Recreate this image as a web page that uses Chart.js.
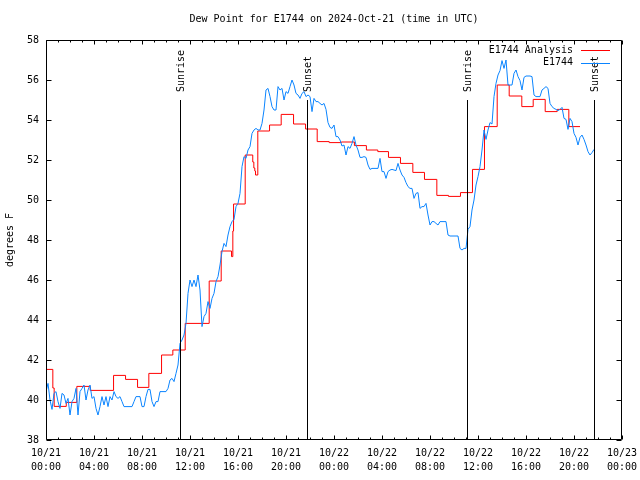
<!DOCTYPE html>
<html>
<head>
<meta charset="utf-8">
<script src="https://cdn.jsdelivr.net/npm/chart.js@4/dist/chart.umd.min.js"></script>
<style>
html,body{margin:0;padding:0;background:#fff;}
#wrap{width:640px;height:480px;}
</style>
</head>
<body>
<div id="wrap"><canvas id="c" width="640" height="480"></canvas></div>
<script>
// ---- data (hours since 10/21 00:00 UTC) ----
const chartTitle = 'Dew Point for E1744 on 2024-Oct-21 (time in UTC)';
const yTitle = 'degrees F';
const xTickDates = ['10/21','10/21','10/21','10/21','10/21','10/21','10/22','10/22','10/22','10/22','10/22','10/22','10/23'];
const xTickTimes = ['00:00','04:00','08:00','12:00','16:00','20:00','00:00','04:00','08:00','12:00','16:00','20:00','00:00'];

const sunTimes = [11.13, 21.72, 35.06, 45.64];
const sunLabels = ['Sunrise','Sunset','Sunrise','Sunset'];
const sunLineTop = 55;

const anaLabel = 'E1744 Analysis';
const anaTimes = [0, 0.57, 0.68, 1.69, 2.57, 3.68, 5.63, 6.63, 7.63, 8.57, 9.63, 10.57, 11.6, 13.6, 14.6, 15.46, 15.57, 15.63, 16.6, 17.23, 17.32, 17.4, 17.46, 17.65, 18.63, 19.6, 20.63, 21.63, 22.6, 23.6, 24.6, 25.7, 26.7, 27.65, 28.54, 29.54, 30.57, 31.54, 32.57, 33.54, 34.54, 35.54, 36.54, 37.6, 38.6, 39.65, 40.6, 41.6, 42.6, 43.57, 44.5];
const anaValues = [41.53, 40.6, 39.68, 39.88, 40.68, 40.48, 41.23, 41.03, 40.63, 41.33, 42.25, 42.5, 43.83, 45.95, 47.45, 47.17, 48.45, 49.8, 52.25, 51.9, 51.6, 51.45, 51.25, 53.45, 53.75, 54.28, 53.8, 53.55, 52.92, 52.87, 52.9, 52.72, 52.5, 52.42, 52.13, 51.83, 51.38, 51.03, 50.23, 50.18, 50.37, 51.53, 53.67, 55.75, 55.2, 54.67, 55.03, 54.42, 54.53, 53.67, 53.67];

const obsLabel = 'E1744';
const obsStepMinutes = 10; // observations every 10 minutes from 10/21 00:00
const obsValues = [
 40.42,40.83,40.0,39.53,40.33,40.42,39.92,39.58,40.33,40.25,
 39.83,40.08,39.25,39.92,40.08,40.58,39.25,40.42,40.58,40.75,
 40.0,40.5,40.75,40.08,40.17,39.58,39.25,39.67,40.17,39.75,
 40.17,39.67,40.17,40.0,40.42,40.17,40.08,40.17,39.92,39.67,
 39.67,39.67,39.67,39.67,39.92,40.17,40.17,40.17,39.67,39.67,
 40.17,40.53,40.53,39.92,39.67,39.92,39.92,40.42,40.42,40.42,
 40.42,40.58,41.0,41.08,40.92,41.33,41.75,42.83,43.0,43.25,
 43.83,45.33,46.0,45.67,46.0,45.67,46.25,45.5,43.67,44.17,
 44.33,44.92,44.58,45.08,45.33,45.92,46.17,46.75,47.42,47.83,
 47.67,48.25,48.67,48.92,49.03,49.67,49.83,50.33,51.67,52.17,
 52.08,52.5,52.67,53.33,53.5,53.58,53.5,53.5,53.83,54.5,
 55.5,55.58,55.17,54.67,54.5,54.5,55.67,55.5,55.58,55.0,
 55.42,55.33,55.67,56.0,55.75,55.33,55.25,55.08,55.33,55.42,
 55.17,55.25,55.17,54.42,55.08,54.92,54.92,54.83,54.75,54.83,
 54.53,53.87,53.63,53.58,53.75,53.17,53.17,53.0,52.7,52.75,
 52.25,52.67,52.58,52.83,53.17,52.75,52.5,52.13,52.13,52.17,
 52.13,51.75,51.53,51.58,51.58,51.58,51.58,52.08,51.42,51.42,
 51.08,51.42,51.5,51.53,51.5,51.47,51.83,51.5,51.25,51.13,
 50.87,50.67,50.58,50.58,50.08,50.33,50.37,49.58,49.67,49.67,
 49.83,49.25,48.75,48.92,48.92,48.83,48.75,48.92,48.92,48.92,
 48.92,48.25,48.2,48.2,48.2,48.2,48.2,47.58,47.5,47.58,
 47.58,48.53,48.67,49.5,50.0,50.75,51.17,51.67,52.5,53.5,
 53.03,53.5,53.87,53.8,55.17,55.83,56.25,56.47,56.97,56.58,
 57.0,55.75,55.75,55.75,56.33,56.5,56.17,55.97,55.5,56.13,
 56.2,56.2,56.2,56.17,55.25,55.17,55.17,55.17,55.5,55.58,
 55.67,55.58,54.83,54.67,54.58,54.53,54.47,54.53,54.63,54.08,
 54.03,53.53,54.08,53.92,53.33,53.13,52.75,53.13,53.25,53.03,
 52.75,52.42,52.25,52.37,52.53
];

const xTickStep = 4;
const yMin = 38, yMax = 58, yStep = 2;
const xMin = 0, xMax = 48;

const anaColor = '#ff0000';
const obsColor = '#0a84ff';
const FONT = '"DejaVu Sans Mono", "Liberation Mono", monospace';

// ---- build ----
const anaData = anaTimes.map((t, i) => ({x: t, y: anaValues[i]}));
const obsData = obsValues.map((v, i) => ({x: i * obsStepMinutes / 60, y: v}));

const decor = {
  id: 'decor',
  afterDatasetsDraw(chart) {
    const {ctx, chartArea: a, scales} = chart;
    const x = scales.x, y = scales.y;
    ctx.save();
    ctx.strokeStyle = '#000';
    ctx.fillStyle = '#000';
    ctx.lineWidth = 1;
    ctx.font = '10px ' + FONT;
    const L = a.left + 0.5, R = a.right - 0.5, T = a.top + 0.5, B = a.bottom - 0.5;

    // sunrise / sunset lines
    sunTimes.forEach((t, i) => {
      const px = Math.round(x.getPixelForValue(t)) + 0.5;
      const top = Math.round(y.getPixelForValue(sunLineTop));
      ctx.beginPath(); ctx.moveTo(px, top); ctx.lineTo(px, B); ctx.stroke();
      ctx.save();
      ctx.translate(px + 1, top - 8);
      ctx.rotate(-Math.PI / 2);
      ctx.textAlign = 'left';
      ctx.textBaseline = 'middle';
      ctx.fillText(sunLabels[i], 0, 0);
      ctx.restore();
    });

    // frame
    ctx.beginPath();
    ctx.rect(L, T, R - L, B - T);
    ctx.stroke();

    // x ticks (major every 4h, minor every hour), inward, bottom and top
    ctx.beginPath();
    for (let h = xMin; h <= xMax; h++) {
      const px = Math.round(x.getPixelForValue(h)) + 0.5;
      const len = (h % xTickStep === 0) ? 4 : 2;
      ctx.moveTo(px, B); ctx.lineTo(px, B - len);
      ctx.moveTo(px, T); ctx.lineTo(px, T + len);
    }
    // y ticks, inward, left and right
    for (let v = yMin; v <= yMax; v += yStep) {
      const py = Math.round(y.getPixelForValue(v)) + 0.5;
      ctx.moveTo(L, py); ctx.lineTo(L + 5, py);
      ctx.moveTo(R, py); ctx.lineTo(R - 5, py);
    }
    ctx.stroke();

    // title
    ctx.textAlign = 'center';
    ctx.textBaseline = 'middle';
    ctx.fillText(chartTitle, (a.left + a.right) / 2, 19);

    // legend (text right-aligned, sample line on the right)
    const ds = chart.data.datasets;
    const rows = [ds[0], ds[1]];
    rows.forEach((d, i) => {
      const ly = 50 + i * 12.5;
      ctx.textAlign = 'right';
      ctx.fillStyle = '#000';
      ctx.fillText(d.label, 573, ly);
      ctx.strokeStyle = d.borderColor;
      ctx.beginPath();
      const yy = Math.round(ly) + 0.5;
      ctx.moveTo(581, yy); ctx.lineTo(610, yy);
      ctx.stroke();
    });
    ctx.restore();
  }
};

Chart.defaults.color = '#000';
Chart.defaults.font.family = FONT;
Chart.defaults.font.size = 10;

new Chart(document.getElementById('c'), {
  type: 'line',
  data: {
    datasets: [
      {label: anaLabel, data: anaData, borderColor: anaColor, backgroundColor: anaColor,
       borderWidth: 1, pointRadius: 0, stepped: true, order: 2},
      {label: obsLabel, data: obsData, borderColor: obsColor, backgroundColor: obsColor,
       borderWidth: 1, pointRadius: 0, tension: 0, order: 1}
    ]
  },
  options: {
    responsive: false,
    animation: false,
    events: [],
    layout: {padding: {top: 40, right: 18, left: 0, bottom: 0}},
    plugins: {legend: {display: false}, title: {display: false}, tooltip: {enabled: false}},
    scales: {
      x: {
        type: 'linear', min: xMin, max: xMax,
        grid: {display: false, drawTicks: false, tickLength: 0}, border: {display: false},
        ticks: {
          stepSize: xTickStep, autoSkip: false, maxRotation: 0, padding: 6,
          font: {size: 10, lineHeight: 1.4},
          callback: (v) => { const i = Math.round(v / xTickStep); return [xTickDates[i], xTickTimes[i]]; }
        },
        afterFit: (s) => { s.height = 40; s.paddingLeft = 0; s.paddingRight = 0; }
      },
      y: {
        type: 'linear', min: yMin, max: yMax,
        grid: {display: false, drawTicks: false, tickLength: 0}, border: {display: false},
        ticks: {stepSize: yStep, padding: 7, font: {size: 10}},
        title: {display: true, text: yTitle, font: {size: 10}, padding: {top: 4, bottom: 0}},
        afterFit: (s) => { s.width = 46; s.paddingTop = 0; s.paddingBottom = 0; }
      }
    }
  },
  plugins: [decor]
});
</script>
</body>
</html>
